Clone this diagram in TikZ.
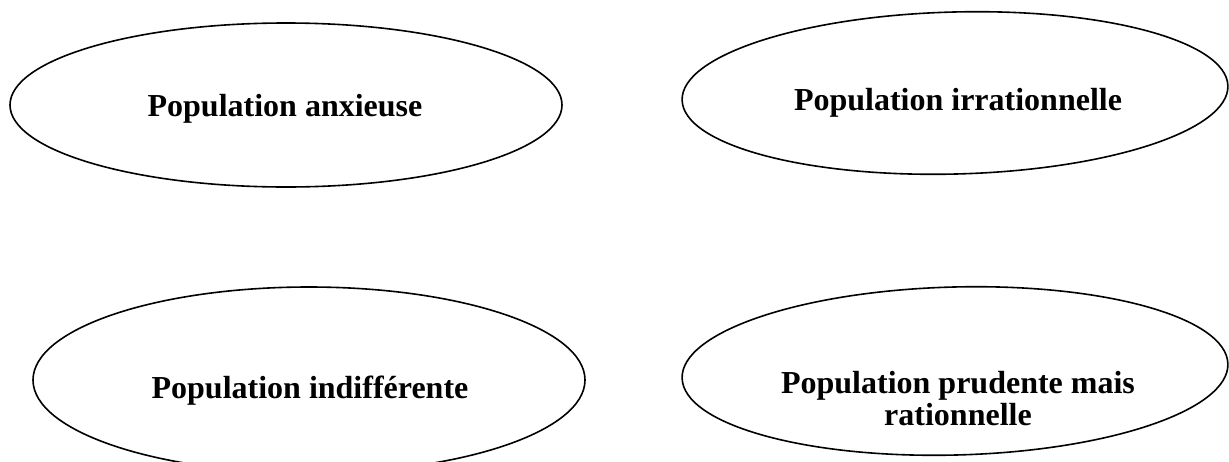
\documentclass[tikz,border=0pt]{standalone}
\usepackage{fontspec}
\setmainfont{Liberation Serif}
\usetikzlibrary{shapes.geometric}
\begin{document}
\begin{tikzpicture}[x=0.75pt,y=-0.75pt,
  oval/.style={ellipse,draw=black,line width=1.2pt,inner sep=0pt,outer sep=0pt},
  lbl/.style={font=\fontsize{24}{23.5}\selectfont\bfseries,inner sep=0pt,anchor=base,align=center}]
\useasboundingbox (0,0) rectangle (1229,461);
\node[oval,minimum width=414pt,minimum height=123pt] (e1) at (286,105) {};
\node[oval,minimum width=409.5pt,minimum height=121.5pt,rotate=1.5] (e2) at (955,93) {};
\node[oval,minimum width=414pt,minimum height=139.5pt] (e3) at (309,380) {};
\node[oval,minimum width=409.5pt,minimum height=126pt,rotate=1.5] (e4) at (955,371) {};
\node[lbl] (t1) at (285,116) {Population anxieuse};
\node[lbl] (t2) at (958,110) {Population irrationnelle};
\node[lbl] (t3) at (310,398) {Population indifférente};
\node[lbl] (t4) at (958,425) {Population prudente mais\\rationnelle};
\end{tikzpicture}
\end{document}
